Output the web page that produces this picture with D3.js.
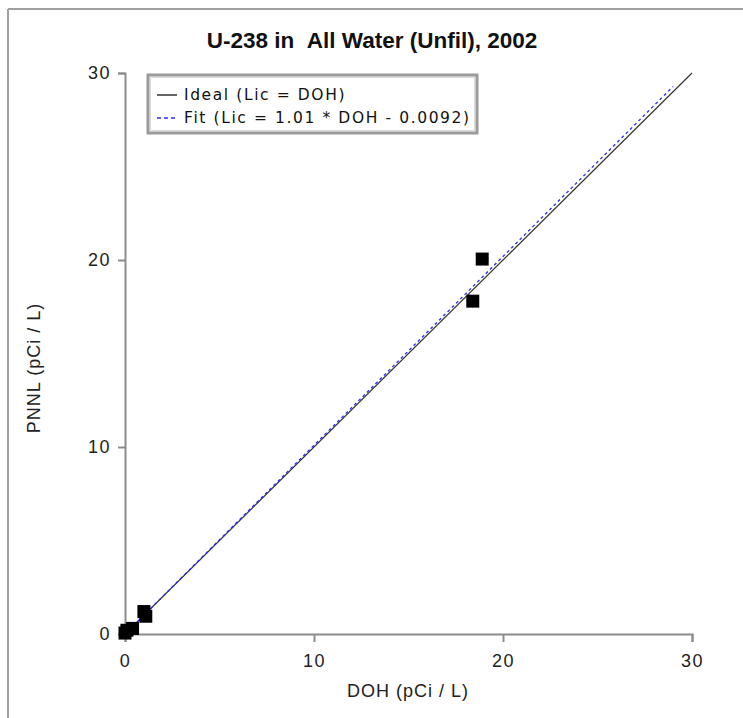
<!DOCTYPE html>
<html>
<head>
<meta charset="utf-8">
<script src="https://cdn.jsdelivr.net/npm/d3@7"></script>
<style>
  html, body { margin: 0; padding: 0; background: #fff; }
  svg { display: block; }
</style>
</head>
<body>
<svg id="chart" width="743" height="718"></svg>
<script>
// Paired U-238 results: DOH vs PNNL (pCi / L)
const dohValues  = [0.0, 0.1, 0.4, 1.0, 1.1, 18.4, 18.9];
const pnnlValues = [0.05, 0.2, 0.3, 1.2, 0.95, 17.8, 20.05];
const xTicks = [0, 10, 20, 30];
const yTicks = [0, 10, 20, 30];
const fitSlope = 1.01;
const fitIntercept = -0.0092;
const fitRange = [0, 29];
const idealRange = [0, 30];
const legendLabels = ["Ideal (Lic = DOH)", "Fit (Lic = 1.01 * DOH - 0.0092)"];
const titleText = "U-238 in\u00a0\u00a0All Water (Unfil), 2002";

const svg = d3.select("#chart");
const W = 743, H = 718;
const plot = { left: 125, right: 692, top: 73, bottom: 634 };

// window frame (top and left edges)
svg.append("rect").attr("x", 0).attr("y", 0).attr("width", W).attr("height", H).attr("fill", "#fff");
svg.append("line").attr("x1", 8).attr("x2", W).attr("y1", 9).attr("y2", 9)
  .attr("stroke", "#a0a0a0").attr("stroke-width", 2);
svg.append("line").attr("x1", 8).attr("x2", 8).attr("y1", 9).attr("y2", H)
  .attr("stroke", "#a0a0a0").attr("stroke-width", 2);

const x = d3.scaleLinear().domain([0, 30]).range([plot.left, plot.right]);
const y = d3.scaleLinear().domain([0, 30]).range([plot.bottom, plot.top]);

const font = "'Liberation Sans', Arial, sans-serif";

// axes
const xAxis = svg.append("g").attr("transform", `translate(0,${plot.bottom})`)
  .call(d3.axisBottom(x).tickValues(xTicks).tickSize(8).tickPadding(10).tickFormat(d3.format("d")));
const yAxis = svg.append("g").attr("transform", `translate(${plot.left},0)`)
  .call(d3.axisLeft(y).tickValues(yTicks).tickSize(7).tickPadding(7).tickFormat(d3.format("d")));
[xAxis, yAxis].forEach(g => {
  g.select(".domain").attr("stroke", "#8c8c8c").attr("stroke-width", 2);
  g.selectAll(".tick line").attr("stroke", "#8c8c8c").attr("stroke-width", 2);
  g.selectAll(".tick text").attr("fill", "#222").style("font-family", font)
    .style("font-size", "18px").style("letter-spacing", "1.5px");
});
xAxis.selectAll(".tick text").attr("dy", "0.85em");

// ideal 1:1 line
svg.append("line")
  .attr("x1", x(idealRange[0])).attr("y1", y(idealRange[0]))
  .attr("x2", x(idealRange[1])).attr("y2", y(idealRange[1]))
  .attr("stroke", "#333").attr("stroke-width", 1.2);

// fitted regression line
svg.append("line")
  .attr("x1", x(fitRange[0])).attr("y1", y(fitSlope * fitRange[0] + fitIntercept))
  .attr("x2", x(fitRange[1])).attr("y2", y(fitSlope * fitRange[1] + fitIntercept))
  .attr("stroke", "#2a2aff").attr("stroke-width", 1.3).attr("stroke-dasharray", "3,3");

// sample points
const size = 13;
svg.append("g").selectAll("rect")
  .data(dohValues.map((d, i) => [d, pnnlValues[i]]))
  .join("rect")
  .attr("x", d => x(d[0]) - size / 2)
  .attr("y", d => y(d[1]) - size / 2)
  .attr("width", size).attr("height", size)
  .attr("fill", "#000");

// title
svg.append("text").attr("x", 372).attr("y", 48).attr("text-anchor", "middle")
  .style("font-family", "'Liberation Sans Narrow', 'Liberation Sans', Arial, sans-serif")
  .style("font-weight", "bold").style("font-size", "22.5px").attr("fill", "#111")
  .text(titleText);

// axis titles
svg.append("text").attr("x", 408).attr("y", 697).attr("text-anchor", "middle")
  .style("font-family", font).style("font-size", "18px").style("letter-spacing", "1px")
  .attr("fill", "#222")
  .text("DOH (pCi / L)");
svg.append("text").attr("transform", "translate(40,368) rotate(-90)").attr("text-anchor", "middle")
  .style("font-family", font).style("font-size", "18px").style("letter-spacing", "1px")
  .attr("fill", "#222")
  .text("PNNL (pCi / L)");

// legend
const lg = svg.append("g");
lg.append("rect").attr("x", 148).attr("y", 75).attr("width", 329).attr("height", 58)
  .attr("fill", "#fff").attr("stroke", "#9a9a9a").attr("stroke-width", 3);
lg.append("rect").attr("x", 150.5).attr("y", 77.5).attr("width", 324).attr("height", 53)
  .attr("fill", "none").attr("stroke", "#d8d8d8").attr("stroke-width", 1);
const legendStyles = [
  { stroke: "#111", dash: null },
  { stroke: "#2a2aff", dash: "4,3" }
];
legendLabels.forEach((label, i) => {
  const ly = 95 + i * 23;
  lg.append("line").attr("x1", 157).attr("x2", 177).attr("y1", ly).attr("y2", ly)
    .attr("stroke", legendStyles[i].stroke).attr("stroke-width", 1.3)
    .attr("stroke-dasharray", legendStyles[i].dash);
  lg.append("text").attr("x", 184).attr("y", ly + 5)
    .style("font-family", "'DejaVu Sans', Verdana, sans-serif")
    .style("font-size", "15.5px").style("letter-spacing", "1.6px").attr("fill", "#111")
    .text(label);
});
</script>
</body>
</html>
